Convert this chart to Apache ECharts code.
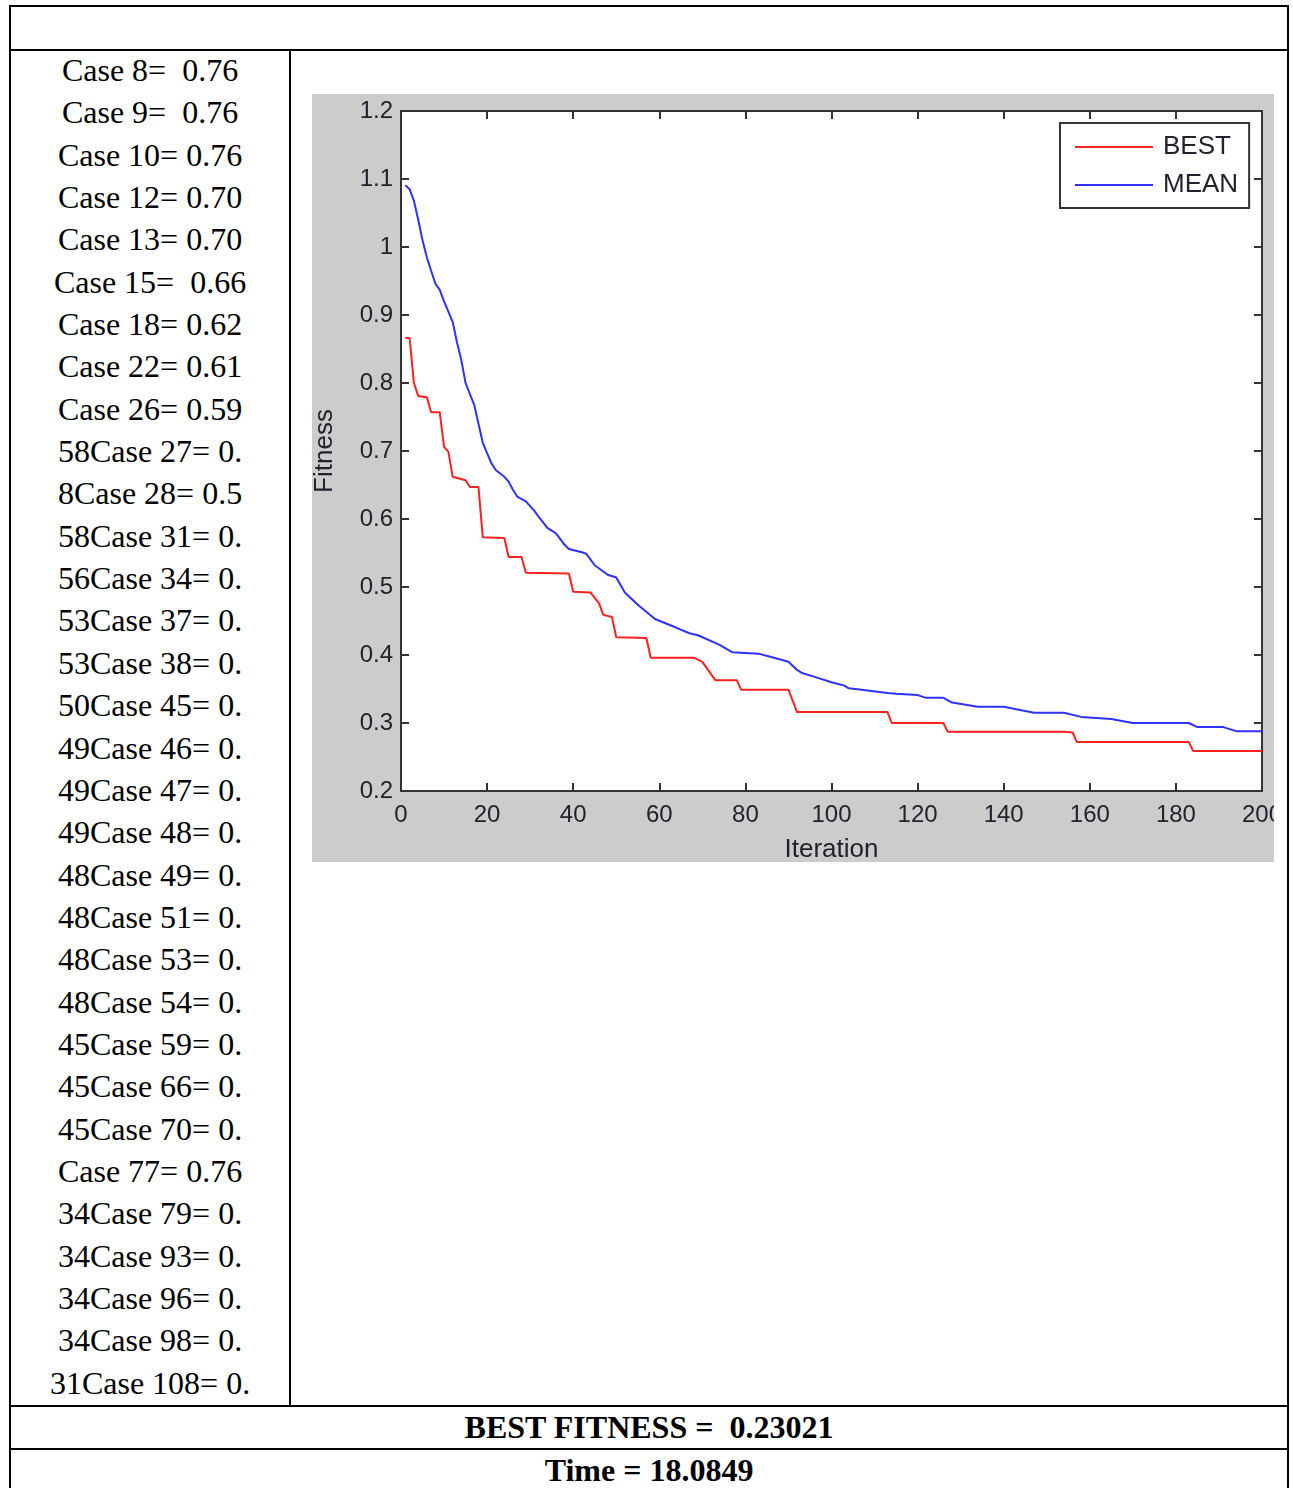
<!DOCTYPE html>
<html><head><meta charset="utf-8">
<script src="https://cdn.jsdelivr.net/npm/echarts@6/dist/echarts.min.js"></script>
<style>
html,body{margin:0;padding:0;background:#fff;width:1293px;height:1488px;overflow:hidden;}
body{position:relative;}
.ln{position:absolute;background:#000;}
#cases{position:absolute;left:10px;width:280px;top:49px;font-family:'Liberation Serif','Times New Roman',serif;font-size:32px;line-height:42.35px;text-align:center;white-space:pre;color:#000;}
.bold{position:absolute;left:10px;width:1278px;text-align:center;font-family:'Liberation Serif','Times New Roman',serif;font-weight:bold;font-size:32px;white-space:pre;color:#000;line-height:40px;}
#wrap{position:absolute;left:312px;top:94px;width:962px;height:768px;overflow:hidden;background:#cccccc;}
#chart{width:1000px;height:768px;}
</style></head>
<body>
<div class="ln" style="left:9px;top:5px;width:1280px;height:2px"></div>
<div class="ln" style="left:9px;top:5px;width:2px;height:1490px"></div>
<div class="ln" style="left:1287px;top:5px;width:2px;height:1490px"></div>
<div class="ln" style="left:9px;top:49px;width:1280px;height:2px"></div>
<div class="ln" style="left:289px;top:49px;width:2px;height:1357px"></div>
<div class="ln" style="left:9px;top:1405px;width:1280px;height:2px"></div>
<div class="ln" style="left:9px;top:1448px;width:1280px;height:2px"></div>
<div id="cases"></div>
<div class="bold" id="bestFit" style="top:1407px"></div>
<div class="bold" id="timeTxt" style="top:1450px"></div>
<div id="wrap"><div id="chart"></div></div>
<script>
// ----- table text -----
const caseLabels = [
  "Case 8=  0.76","Case 9=  0.76","Case 10= 0.76","Case 12= 0.70","Case 13= 0.70",
  "Case 15=  0.66","Case 18= 0.62","Case 22= 0.61","Case 26= 0.59","58Case 27= 0.",
  "8Case 28= 0.5","58Case 31= 0.","56Case 34= 0.","53Case 37= 0.","53Case 38= 0.",
  "50Case 45= 0.","49Case 46= 0.","49Case 47= 0.","49Case 48= 0.","48Case 49= 0.",
  "48Case 51= 0.","48Case 53= 0.","48Case 54= 0.","45Case 59= 0.","45Case 66= 0.",
  "45Case 70= 0.","Case 77= 0.76","34Case 79= 0.","34Case 93= 0.","34Case 96= 0.",
  "34Case 98= 0.","31Case 108= 0."
];
const bestFitnessText = "BEST FITNESS =  0.23021";
const timeText = "Time = 18.0849";

// ----- chart data -----
const xTickInfo = {min: 0, max: 200, interval: 20};
const yTickInfo = {min: 0.2, max: 1.2, interval: 0.1};
const seriesNames = ["BEST", "MEAN"];
const bestIter = [1,2,3,4,6,7,9,10,11,12,15,16,18,19,24,25,28,29,39,40,44,46,47,49,50,57,58,68,70,73,78,79,90,92,113,114,126,127,154,156,157,183,184,200];
const bestVal  = [0.866,0.866,0.800,0.781,0.779,0.757,0.757,0.706,0.699,0.662,0.657,0.647,0.647,0.573,0.572,0.544,0.544,0.521,0.520,0.493,0.492,0.476,0.459,0.456,0.426,0.425,0.396,0.396,0.390,0.363,0.363,0.349,0.349,0.316,0.316,0.300,0.300,0.287,0.287,0.286,0.272,0.272,0.259,0.259];
const meanIter = [1,2,3,4,5,6,7,8,9,10,12,13,14,15,17,18,19,20,21,22,24,25,26,27,29,31,32,34,36,38,39,42,43,45,48,50,52,55,59,64,67,69,74,77,83,86,90,92,93,97,100,103,104,107,113,115,120,122,126,128,134,140,147,154,158,165,170,183,185,191,194,200];
const meanVal  = [1.091,1.085,1.068,1.040,1.010,0.985,0.965,0.946,0.937,0.920,0.890,0.860,0.834,0.800,0.768,0.740,0.712,0.697,0.682,0.672,0.662,0.655,0.643,0.633,0.626,0.612,0.603,0.587,0.579,0.562,0.556,0.551,0.549,0.532,0.518,0.514,0.492,0.474,0.453,0.440,0.432,0.429,0.415,0.404,0.402,0.397,0.390,0.378,0.374,0.366,0.360,0.355,0.351,0.349,0.344,0.343,0.341,0.337,0.337,0.330,0.324,0.324,0.315,0.315,0.309,0.306,0.300,0.300,0.294,0.294,0.288,0.288];

document.getElementById('cases').textContent = caseLabels.join('\n');
document.getElementById('bestFit').textContent = bestFitnessText;
document.getElementById('timeTxt').textContent = timeText;

const axisColor = '#333333';
const labelColor = '#22222c';
const sansFont = 'Liberation Sans, Arial, sans-serif';

function xAx(pos, show) {
  return {
    type: 'value', position: pos, min: xTickInfo.min, max: xTickInfo.max, interval: xTickInfo.interval,
    axisLine: {show: true, onZero: false, lineStyle: {color: axisColor, width: 2}},
    axisTick: {show: true, inside: true, length: 8, lineStyle: {color: axisColor, width: 2}},
    axisLabel: {show: show, fontSize: 24, color: labelColor, fontFamily: sansFont, margin: 12},
    splitLine: {show: false},
    name: show ? 'Iteration' : '', nameLocation: 'middle', nameGap: 46,
    nameTextStyle: {fontSize: 26, color: labelColor, fontFamily: sansFont}
  };
}
function yAx(pos, show) {
  return {
    type: 'value', position: pos, min: yTickInfo.min, max: yTickInfo.max, interval: yTickInfo.interval,
    axisLine: {show: true, onZero: false, lineStyle: {color: axisColor, width: 2}},
    axisTick: {show: true, inside: true, length: 8, lineStyle: {color: axisColor, width: 2}},
    axisLabel: {show: show, fontSize: 24, color: labelColor, fontFamily: sansFont, margin: 8, padding: [4, 0, 0, 0]},
    splitLine: {show: false},
    name: show ? 'Fitness' : '', nameLocation: 'middle', nameGap: 63,
    nameTextStyle: {fontSize: 26, color: labelColor, fontFamily: sansFont}
  };
}

const chart = echarts.init(document.getElementById('chart'), null, {renderer: 'canvas'});
chart.setOption({
  backgroundColor: '#cccccc',
  animation: false,
  grid: {left: 89, right: 50, top: 17, bottom: 71, containLabel: false, outerBoundsMode: 'none',
         show: true, backgroundColor: '#ffffff', borderWidth: 0},
  legend: {
    orient: 'vertical', left: 748, top: 29,
    backgroundColor: '#ffffff', borderColor: axisColor, borderWidth: 2, borderRadius: 0,
    padding: [11, 11, 10, 15], itemGap: 12, itemWidth: 78, itemHeight: 2, icon: 'rect',
    textStyle: {fontSize: 26, color: labelColor, fontFamily: sansFont, padding: [3, 0, 0, 5]},
    data: seriesNames
  },
  xAxis: [xAx('bottom', true), xAx('top', false)],
  yAxis: [yAx('left', true), yAx('right', false)],
  series: [
    {name: seriesNames[0], type: 'line', xAxisIndex: 0, yAxisIndex: 0, symbol: 'none', showSymbol: false,
     color: '#ff2020', lineStyle: {width: 2, color: '#ff2020'},
     data: bestIter.map((it, i) => [it, bestVal[i]])},
    {name: seriesNames[1], type: 'line', xAxisIndex: 0, yAxisIndex: 0, symbol: 'none', showSymbol: false,
     color: '#3030ff', lineStyle: {width: 2, color: '#3030ff'},
     data: meanIter.map((it, i) => [it, meanVal[i]])}
  ]
});
</script>
</body></html>
